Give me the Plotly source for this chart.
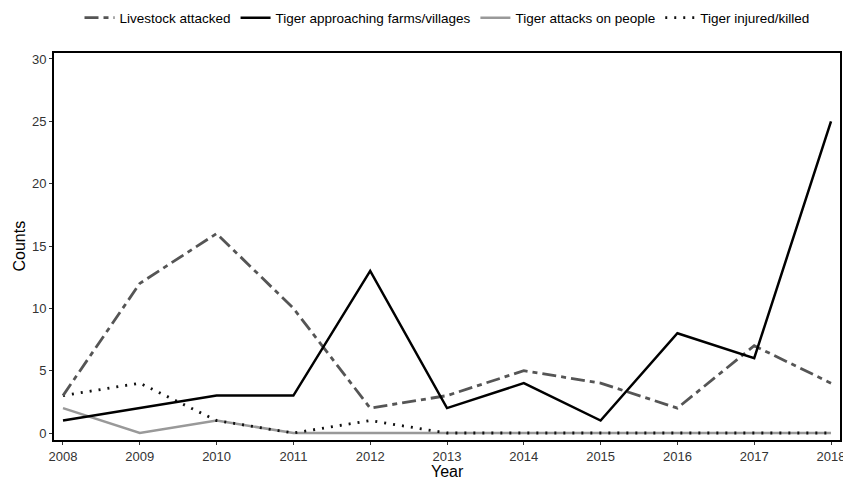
import plotly.graph_objects as go

years = [2008, 2009, 2010, 2011, 2012, 2013, 2014, 2015, 2016, 2017, 2018]
livestock_attacked = [3, 12, 16, 10, 2, 3, 5, 4, 2, 7, 4]
tiger_approaching = [1, 2, 3, 3, 13, 2, 4, 1, 8, 6, 25]
attacks_on_people = [2, 0, 1, 0, 0, 0, 0, 0, 0, 0, 0]
injured_killed = [3, 4, 1, 0, 1, 0, 0, 0, 0, 0, 0]
y_ticks = [0, 5, 10, 15, 20, 25, 30]

fig = go.Figure()
fig.add_trace(go.Scatter(x=years, y=attacks_on_people, mode="lines", name="Tiger attacks on people",
                         line=dict(color="#999999", width=2.5), legendrank=3))
fig.add_trace(go.Scatter(x=years, y=injured_killed, mode="lines", name="Tiger injured/killed",
                         line=dict(color="#111111", width=2.8, dash="2px,7px"), legendrank=4))
fig.add_trace(go.Scatter(x=years, y=livestock_attacked, mode="lines", name="Livestock attacked",
                         line=dict(color="#555555", width=2.8, dash="14px,5px,5px,5px"), legendrank=1))
fig.add_trace(go.Scatter(x=years, y=tiger_approaching, mode="lines", name="Tiger approaching farms/villages",
                         line=dict(color="#000000", width=2.5), legendrank=2))

axis_common = dict(showgrid=False, zeroline=False, showline=True, linecolor="black", linewidth=2,
                   mirror=True, ticks="outside", ticklen=3, tickwidth=1, tickcolor="#333333",
                   automargin=False, ticklabeloverflow="allow",
                   tickfont=dict(family="Liberation Sans, Arial", size=13, color="#333333"))

fig.update_layout(
    width=843, height=479,
    paper_bgcolor="white", plot_bgcolor="white",
    margin=dict(l=54, r=3, t=53, b=39),
    font=dict(family="Liberation Sans, Arial", color="black"),
    showlegend=True,
    legend=dict(orientation="h", x=0.5, xanchor="center", y=0.995, yanchor="top",
                yref="container", font=dict(size=13.5), traceorder="normal"),
    xaxis=dict(range=[2007.883, 2018.117], tickvals=years, **axis_common),
    yaxis=dict(range=[-0.56, 30.48], tickvals=y_ticks, **axis_common),
    annotations=[
        dict(text="Year", xref="paper", yref="paper", x=0.5, y=0, xanchor="center", yanchor="middle",
             yshift=-31, showarrow=False, font=dict(size=16, color="black")),
        dict(text="Counts", xref="paper", yref="paper", x=0, y=0.5, xanchor="center", yanchor="middle",
             xshift=-35, textangle=-90, showarrow=False, font=dict(size=16, color="black")),
    ],
)

fig.write_html("out.html", config={"displayModeBar": False},
               post_script="document.body.style.margin='0';document.body.style.padding='0';"
                           "document.body.style.overflow='hidden';document.documentElement.style.overflow='hidden';")
